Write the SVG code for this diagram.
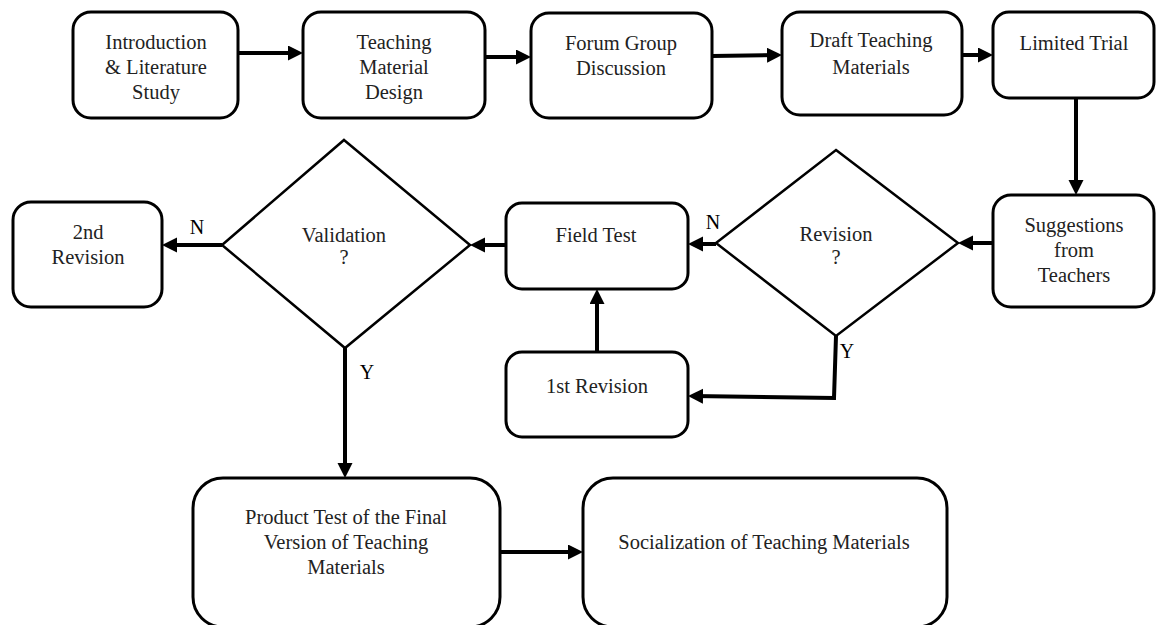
<svg xmlns="http://www.w3.org/2000/svg" width="1156" height="625" viewBox="0 0 1156 625">
<style>
.box{fill:#fff;stroke:#000;stroke-width:3}
.dia{fill:#fff;stroke:#000;stroke-width:2.5}
.t{font-size:20.5px;fill:#222;text-anchor:middle}
.lbl{font-size:20px;fill:#000;text-anchor:middle}
.c{fill:none;stroke:#000;stroke-width:4;marker-end:url(#ah)}
</style>
<defs>
<marker id="ah" markerUnits="userSpaceOnUse" markerWidth="16" markerHeight="16" refX="10" refY="7.5" orient="auto">
<path d="M0,0 L15,7.5 L0,15 z" fill="#000"/>
</marker>
</defs>
<rect width="1156" height="625" fill="#fff"/>
<g font-family="Liberation Serif, Tinos, Times New Roman, DejaVu Serif, serif">
<g id="connectors">
<path class="c" d="M238,53 H298"/>
<path class="c" d="M485,57 H526"/>
<path class="c" d="M712,56 L777,55"/>
<path class="c" d="M962,55 H988"/>
<path class="c" d="M1076,98 V190"/>
<path class="c" d="M993,243 H963"/>
<path class="c" d="M716,244 H693"/>
<path class="c" d="M506,245 H475"/>
<path class="c" d="M222,245 H167"/>
<path class="c" d="M836,336 L834,398 L693,396"/>
<path class="c" d="M597,352 V294"/>
<path class="c" d="M345,348 V473"/>
<path class="c" d="M500,552 H578"/>
<text class="lbl" x="713" y="229">N</text>
<text class="lbl" x="197" y="234">N</text>
<text class="lbl" x="847" y="358">Y</text>
<text class="lbl" x="367" y="379">Y</text>
</g>
<g id="intro">
<rect class="box" x="73" y="12" width="165" height="106" rx="18"/>
<text class="t" x="156" y="49">Introduction</text>
<text class="t" x="156" y="74">&amp; Literature</text>
<text class="t" x="156" y="99">Study</text>
</g>
<g id="design">
<rect class="box" x="303" y="12" width="182" height="106" rx="18"/>
<text class="t" x="394" y="49">Teaching</text>
<text class="t" x="394" y="74">Material</text>
<text class="t" x="394" y="99">Design</text>
</g>
<g id="forum">
<rect class="box" x="531" y="13" width="181" height="105" rx="18"/>
<text class="t" x="621" y="50">Forum Group</text>
<text class="t" x="621" y="75">Discussion</text>
</g>
<g id="draft">
<rect class="box" x="782" y="12" width="180" height="103" rx="18"/>
<text class="t" x="871" y="47">Draft Teaching</text>
<text class="t" x="871" y="74">Materials</text>
</g>
<g id="limited">
<rect class="box" x="993" y="12" width="161" height="86" rx="16"/>
<text class="t" x="1074" y="50">Limited Trial</text>
</g>
<g id="suggestions">
<rect class="box" x="993" y="195" width="161" height="112" rx="18"/>
<text class="t" x="1074" y="232">Suggestions</text>
<text class="t" x="1074" y="257">from</text>
<text class="t" x="1074" y="282">Teachers</text>
</g>
<g id="revision">
<polygon class="dia" points="836,150 958,243 836,336 716,243"/>
<text class="t" x="836" y="241">Revision</text>
<text class="t" x="836" y="264">?</text>
</g>
<g id="fieldtest">
<rect class="box" x="506" y="203" width="182" height="86" rx="16"/>
<text class="t" x="596" y="242">Field Test</text>
</g>
<g id="firstrev">
<rect class="box" x="506" y="352" width="182" height="85" rx="16"/>
<text class="t" x="597" y="393">1st Revision</text>
</g>
<g id="validation">
<polygon class="dia" points="344,140 470,245 345,348 222,245"/>
<text class="t" x="344" y="242">Validation</text>
<text class="t" x="344" y="264">?</text>
</g>
<g id="secondrev">
<rect class="box" x="13" y="202" width="149" height="105" rx="18"/>
<text class="t" x="88" y="239">2nd</text>
<text class="t" x="88" y="264">Revision</text>
</g>
<g id="product">
<rect class="box" x="193" y="478" width="307" height="149" rx="30"/>
<text class="t" x="346" y="524">Product Test of the Final</text>
<text class="t" x="346" y="549">Version of Teaching</text>
<text class="t" x="346" y="574">Materials</text>
</g>
<g id="socialization">
<rect class="box" x="583" y="478" width="364" height="149" rx="30"/>
<text class="t" x="764" y="549">Socialization of Teaching Materials</text>
</g>
</g>
</svg>
